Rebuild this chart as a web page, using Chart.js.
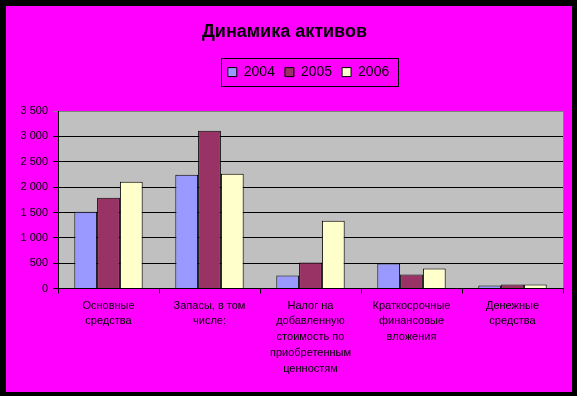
<!DOCTYPE html>
<html lang="ru">
  <head>
    <meta charset="utf-8" />
    <title>Динамика активов</title>
    <script src="https://cdn.jsdelivr.net/npm/chart.js@4.4.1/dist/chart.umd.min.js"></script>
    <style type="text/css">
      body {
        margin: 0;
        background-color: #000000;
        width: 577px;
        height: 396px;
        overflow: hidden;
      }
      #frame {
        position: absolute;
        left: 6px;
        top: 6px;
        width: 566px;
        height: 386px;
        background-color: #ff00ff;
      }
    </style>
  </head>
  <body>
    <div id="frame">
      <canvas id="myChart" width="566" height="386"></canvas>
    </div>

    <script>
      var categories = [
        ['Основные', 'средства'],
        ['Запасы, в том', 'числе:'],
        ['Налог на', 'добавленную', 'стоимость по', 'приобретенным', 'ценностям'],
        ['Краткосрочные', 'финансовые', 'вложения'],
        ['Денежные', 'средства']
      ];
      var years = ['2004', '2005', '2006'];
      var values2004 = [1516, 2244, 256, 492, 59];
      var values2005 = [1791, 3110, 512, 276, 79];
      var values2006 = [2106, 2264, 1339, 394, 79];
      var yTicks = [0, 500, 1000, 1500, 2000, 2500, 3000, 3500];

      var FONT = "'Liberation Sans', Arial, sans-serif";
      var LEGEND_DX = 24;
      var LEGEND_DY = -22;

      function spaced(v) {
        return String(v).replace(/\B(?=(\d{3})+(?!\d))/g, ' ');
      }

      // grey plot area, legend frame, legend nudged like the original
      var excelLook = {
        id: 'excelLook',
        afterLayout: function(chart) {
          var lg = chart.legend;
          lg.left += LEGEND_DX; lg.right += LEGEND_DX;
          lg.top += LEGEND_DY; lg.bottom += LEGEND_DY;
        },
        beforeDraw: function(chart) {
          var ctx = chart.ctx, a = chart.chartArea;
          ctx.save();
          ctx.fillStyle = '#c0c0c0';
          ctx.fillRect(a.left, a.top, a.right - a.left, a.bottom - a.top);
          ctx.strokeStyle = '#808080';
          ctx.lineWidth = 1;
          ctx.beginPath();
          ctx.moveTo(Math.round(a.right) + 0.5, a.top);
          ctx.lineTo(Math.round(a.right) + 0.5, a.bottom);
          ctx.stroke();
          ctx.restore();
        },
        afterDraw: function(chart) {
          var boxes = chart.legend.legendHitBoxes;
          if (!boxes || !boxes.length) return;
          var l = Infinity, r = -Infinity;
          boxes.forEach(function(b) {
            l = Math.min(l, b.left);
            r = Math.max(r, b.left + b.width);
          });
          var cy = boxes[0].top + boxes[0].height / 2;
          var ctx = chart.ctx;
          ctx.save();
          ctx.strokeStyle = '#000000';
          ctx.lineWidth = 1;
          ctx.strokeRect(Math.round(l - 7) + 0.5, Math.round(cy - 14) + 0.5, Math.round(r - l + 16), 28);
          ctx.restore();
        }
      };

      var data = {
        labels: categories,
        datasets: [
          {
            label: years[0],
            data: values2004,
            backgroundColor: '#9999ff',
            borderColor: '#000000',
            borderWidth: 1
          },
          {
            label: years[1],
            data: values2005,
            backgroundColor: '#993366',
            borderColor: '#000000',
            borderWidth: 1
          },
          {
            label: years[2],
            data: values2006,
            backgroundColor: '#ffffcc',
            borderColor: '#000000',
            borderWidth: 1
          }
        ]
      };

      new Chart(document.getElementById('myChart').getContext('2d'), {
        type: 'bar',
        data: data,
        plugins: [excelLook],
        options: {
          responsive: false,
          animation: false,
          layout: { padding: { left: 0, right: 9, top: 0, bottom: 0 } },
          datasets: {
            bar: { categoryPercentage: 0.677, barPercentage: 1 }
          },
          plugins: {
            tooltip: { enabled: false },
            title: {
              display: true,
              text: 'Динамика активов',
              color: '#000000',
              font: { family: FONT, size: 18, weight: 'bold' },
              padding: { top: 15, bottom: 34.5 }
            },
            legend: {
              display: true,
              position: 'top',
              labels: {
                color: '#000000',
                font: { family: FONT, size: 14 },
                boxWidth: 9,
                boxHeight: 9,
                padding: 10
              }
            }
          },
          scales: {
            x: {
              afterFit: function(scale) { scale.height = 103.5; },
              grid: {
                offset: true,
                drawOnChartArea: false,
                drawTicks: true,
                tickLength: 5,
                color: '#000000'
              },
              border: { display: true, color: '#000000', width: 1 },
              ticks: {
                color: '#000000',
                font: { family: FONT, size: 11, lineHeight: 1.45 },
                padding: 4,
                maxRotation: 0,
                autoSkip: false
              }
            },
            y: {
              min: yTicks[0],
              max: yTicks[yTicks.length - 1],
              afterFit: function(scale) { scale.width = 52; },
              afterBuildTicks: function(scale) {
                scale.ticks = yTicks.map(function(v) { return { value: v }; });
              },
              grid: {
                color: function(c) {
                  return c.tick && c.tick.value === yTicks[yTicks.length - 1] ? '#808080' : '#000000';
                },
                tickLength: 5,
                lineWidth: 1
              },
              border: { display: true, color: '#000000', width: 1 },
              ticks: {
                color: '#000000',
                font: { family: FONT, size: 11 },
                padding: 5,
                callback: function(v) { return spaced(v); }
              }
            }
          }
        }
      });
    </script>
  </body>
</html>
